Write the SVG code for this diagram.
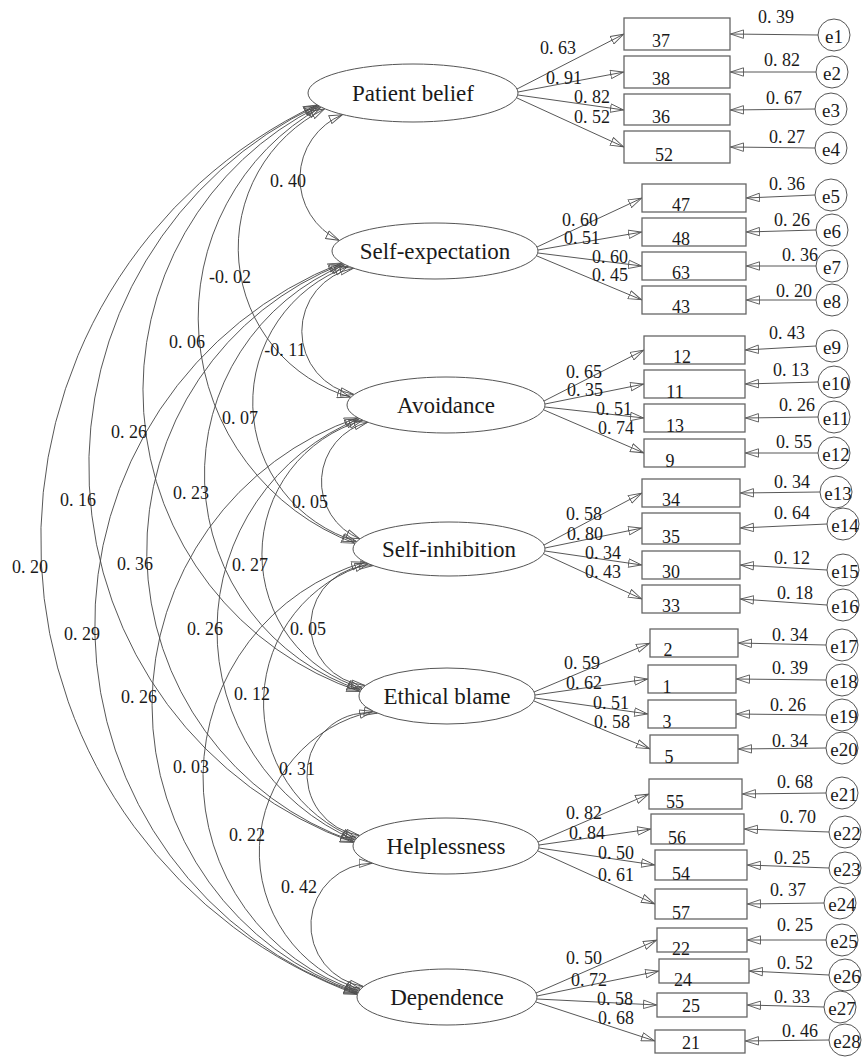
<svg xmlns="http://www.w3.org/2000/svg" width="863" height="1059" viewBox="0 0 863 1059" font-family="Liberation Serif, serif">
<defs>
<style>
.cv{fill:none;stroke:#444;stroke-width:0.9;marker-start:url(#ah);marker-end:url(#ah)}
.ar{fill:none;stroke:#444;stroke-width:0.9;marker-end:url(#ah)}
.el{fill:#fff;stroke:#555;stroke-width:1}
.bx{fill:#fff;stroke:#666;stroke-width:1.3}
.ec{fill:#fff;stroke:#555;stroke-width:1}
</style>
<marker id="ah" viewBox="0 0 14 10" refX="14" refY="5" markerWidth="14" markerHeight="10" markerUnits="userSpaceOnUse" orient="auto-start-reverse">
<path d="M0.5,0.8 L13.5,5 L0.5,9.2 Z" fill="none" stroke="#555" stroke-width="0.9"/>
</marker>
</defs>
<rect width="863" height="1059" fill="#fff"/>

<g id="connectors">
<path class="cv" d="M342.8 114.5 A68.8 68.8 0 0 0 339.5 240.5"/>
<path class="cv" d="M353.8 268.2 A64.3 64.3 0 0 0 354.2 394.5"/>
<path class="cv" d="M368 422.2 A61.5 61.5 0 0 0 360 538.9"/>
<path class="cv" d="M373.4 565.6 A60.1 60.1 0 0 0 365.4 685.5"/>
<path class="cv" d="M377.7 713.2 A61.2 61.2 0 0 0 359.8 835.5"/>
<path class="cv" d="M372.7 863.2 A62 62 0 0 0 363.6 986.5"/>
<path class="cv" d="M324.9 108.8 A155.2 155.2 0 0 0 350.9 397.3"/>
<path class="cv" d="M348.6 266.3 A144.8 144.8 0 0 0 356.7 541.5"/>
<path class="cv" d="M362.9 420.3 A139.5 139.5 0 0 0 362.4 688.3"/>
<path class="cv" d="M368.5 563.7 A144.9 144.9 0 0 0 356.6 838.3"/>
<path class="cv" d="M373.2 711.3 A143.8 143.8 0 0 0 360.5 989.3"/>
<path class="cv" d="M321.1 107.1 A241.3 241.3 0 0 0 355.1 543.4"/>
<path class="cv" d="M344.9 264.6 A227 227 0 0 0 360.9 690.2"/>
<path class="cv" d="M359.4 418.6 A228.6 228.6 0 0 0 355 840.2"/>
<path class="cv" d="M365 562.1 A224.3 224.3 0 0 0 359 991.2"/>
<path class="cv" d="M319.4 106.2 A317.3 317.3 0 0 0 360.1 691.6"/>
<path class="cv" d="M343.2 263.7 A307.8 307.8 0 0 0 354.1 841.6"/>
<path class="cv" d="M357.8 417.7 A303.6 303.6 0 0 0 358.1 992.6"/>
<path class="cv" d="M317.9 105.3 A399.4 399.4 0 0 0 353.7 842.6"/>
<path class="cv" d="M341.7 262.8 A389.5 389.5 0 0 0 357.6 993.6"/>
<path class="cv" d="M317 104.8 A482.9 482.9 0 0 0 357.4 994.6"/>
<path class="ar" d="M517 89 L624 34"/>
<path class="ar" d="M518 92 L624 72"/>
<path class="ar" d="M518 95 L624 110"/>
<path class="ar" d="M517 98 L624 147"/>
<path class="ar" d="M537 247 L642 198"/>
<path class="ar" d="M538 250 L642 232"/>
<path class="ar" d="M538 253 L642 266"/>
<path class="ar" d="M537 256 L642 300"/>
<path class="ar" d="M544 401 L644 350"/>
<path class="ar" d="M545 404 L644 384"/>
<path class="ar" d="M545 407 L644 418"/>
<path class="ar" d="M544 410 L644 453"/>
<path class="ar" d="M544 545 L642 493"/>
<path class="ar" d="M545 548 L642 528"/>
<path class="ar" d="M545 551 L642 565"/>
<path class="ar" d="M544 554 L642 599"/>
<path class="ar" d="M534 692 L650 643"/>
<path class="ar" d="M535 695 L648 679"/>
<path class="ar" d="M535 698 L648 714"/>
<path class="ar" d="M534 701 L650 749"/>
<path class="ar" d="M538 842 L649 794"/>
<path class="ar" d="M539 845 L651 829"/>
<path class="ar" d="M539 848 L655 865"/>
<path class="ar" d="M538 851 L655 904"/>
<path class="ar" d="M536 993 L657 940"/>
<path class="ar" d="M537 996 L659 971"/>
<path class="ar" d="M537 999 L657 1005"/>
<path class="ar" d="M536 1002 L655 1041"/>
<path class="ar" d="M818 35 L730 34"/>
<path class="ar" d="M816 72 L730 72"/>
<path class="ar" d="M815 109 L730 110"/>
<path class="ar" d="M815 148 L730 147"/>
<path class="ar" d="M815 195 L746 198"/>
<path class="ar" d="M816 230 L746 232"/>
<path class="ar" d="M816 266 L746 266"/>
<path class="ar" d="M816 300 L746 300"/>
<path class="ar" d="M816 346 L745 350"/>
<path class="ar" d="M818 382 L745 384"/>
<path class="ar" d="M818 417 L745 418"/>
<path class="ar" d="M818 453 L745 453"/>
<path class="ar" d="M820 492 L740 493"/>
<path class="ar" d="M827 524 L740 528"/>
<path class="ar" d="M827 570 L740 565"/>
<path class="ar" d="M827 605 L740 599"/>
<path class="ar" d="M826 645 L738 643"/>
<path class="ar" d="M826 680 L736 679"/>
<path class="ar" d="M826 715 L736 714"/>
<path class="ar" d="M826 748 L738 749"/>
<path class="ar" d="M826 793 L742 794"/>
<path class="ar" d="M829 832 L744 829"/>
<path class="ar" d="M829 868 L747 865"/>
<path class="ar" d="M824 903 L747 904"/>
<path class="ar" d="M826 940 L747 940"/>
<path class="ar" d="M829 975 L749 971"/>
<path class="ar" d="M824 1007 L747 1005"/>
<path class="ar" d="M829 1040 L745 1041"/>
</g>

<g id="connector-labels" font-family="Liberation Serif, serif" font-size="18" text-anchor="middle" fill="#1a1a1a">
<text x="288" y="187">0. 40</text>
<text x="285" y="356">-0. 11</text>
<text x="310" y="508">0. 05</text>
<text x="308" y="635">0. 05</text>
<text x="297" y="775">0. 31</text>
<text x="299" y="893">0. 42</text>
<text x="230" y="283">-0. 02</text>
<text x="240" y="424">0. 07</text>
<text x="250" y="571">0. 27</text>
<text x="252" y="700">0. 12</text>
<text x="247" y="841">0. 22</text>
<text x="187" y="348">0. 06</text>
<text x="191" y="499">0. 23</text>
<text x="205" y="635">0. 26</text>
<text x="191" y="773">0. 03</text>
<text x="129" y="438">0. 26</text>
<text x="135" y="570">0. 36</text>
<text x="139" y="703">0. 26</text>
<text x="78" y="506">0. 16</text>
<text x="82" y="640">0. 29</text>
<text x="30" y="573">0. 20</text>
<text x="558" y="54">0. 63</text>
<text x="564" y="84">0. 91</text>
<text x="592" y="103">0. 82</text>
<text x="592" y="123">0. 52</text>
<text x="580" y="226">0. 60</text>
<text x="582" y="244">0. 51</text>
<text x="610" y="263">0. 60</text>
<text x="610" y="281">0. 45</text>
<text x="584" y="378">0. 65</text>
<text x="585" y="396">0. 35</text>
<text x="614" y="415">0. 51</text>
<text x="616" y="434">0. 74</text>
<text x="584" y="520">0. 58</text>
<text x="585" y="540">0. 80</text>
<text x="603" y="559">0. 34</text>
<text x="603" y="578">0. 43</text>
<text x="582" y="669">0. 59</text>
<text x="584" y="689">0. 62</text>
<text x="611" y="709">0. 51</text>
<text x="612" y="728">0. 58</text>
<text x="584" y="819">0. 82</text>
<text x="587" y="839">0. 84</text>
<text x="616" y="859">0. 50</text>
<text x="616" y="881">0. 61</text>
<text x="584" y="964">0. 50</text>
<text x="589" y="986">0. 72</text>
<text x="615" y="1005">0. 58</text>
<text x="616" y="1024">0. 68</text>
<text x="776" y="23">0. 39</text>
<text x="782" y="66">0. 82</text>
<text x="784" y="104">0. 67</text>
<text x="787" y="143">0. 27</text>
<text x="787" y="190">0. 36</text>
<text x="792" y="226">0. 26</text>
<text x="800" y="261">0. 36</text>
<text x="794" y="297">0. 20</text>
<text x="787" y="339">0. 43</text>
<text x="791" y="376">0. 13</text>
<text x="797" y="411">0. 26</text>
<text x="794" y="448">0. 55</text>
<text x="792" y="488">0. 34</text>
<text x="792" y="519">0. 64</text>
<text x="792" y="564">0. 12</text>
<text x="795" y="599">0. 18</text>
<text x="790" y="641">0. 34</text>
<text x="790" y="674">0. 39</text>
<text x="788" y="711">0. 26</text>
<text x="790" y="747">0. 34</text>
<text x="795" y="788">0. 68</text>
<text x="798" y="823">0. 70</text>
<text x="792" y="864">0. 25</text>
<text x="788" y="896">0. 37</text>
<text x="795" y="931">0. 25</text>
<text x="795" y="969">0. 52</text>
<text x="792" y="1003">0. 33</text>
<text x="800" y="1037">0. 46</text>
</g>

<g id="factors" font-family="Liberation Serif, serif" font-size="23" text-anchor="middle" fill="#1a1a1a">
<g id="f-patient-belief"><ellipse class="el" cx="413" cy="93" rx="105" ry="29"/><text x="413" y="101">Patient belief</text></g>
<g id="f-self-expectation"><ellipse class="el" cx="435" cy="251" rx="103" ry="28"/><text x="435" y="259">Self-expectation</text></g>
<g id="f-avoidance"><ellipse class="el" cx="446" cy="405" rx="99" ry="28"/><text x="446" y="413">Avoidance</text></g>
<g id="f-self-inhibition"><ellipse class="el" cx="449" cy="549" rx="96" ry="27"/><text x="449" y="557">Self-inhibition</text></g>
<g id="f-ethical-blame"><ellipse class="el" cx="447" cy="696" rx="88" ry="28"/><text x="447" y="704">Ethical blame</text></g>
<g id="f-helplessness"><ellipse class="el" cx="446" cy="846" rx="93" ry="28"/><text x="446" y="854">Helplessness</text></g>
<g id="f-dependence"><ellipse class="el" cx="447" cy="997" rx="90" ry="28"/><text x="447" y="1005">Dependence</text></g>
</g>

<g id="indicators" font-family="Liberation Serif, serif" font-size="18" text-anchor="middle" fill="#1a1a1a">
<g id="v37"><rect class="bx" x="624" y="18" width="106" height="32"/><text x="661" y="47">37</text></g>
<g id="v38"><rect class="bx" x="624" y="56" width="106" height="32"/><text x="661" y="85">38</text></g>
<g id="v36"><rect class="bx" x="624" y="94" width="106" height="31"/><text x="661" y="123">36</text></g>
<g id="v52"><rect class="bx" x="624" y="131" width="106" height="32"/><text x="664" y="161">52</text></g>
<g id="v47"><rect class="bx" x="642" y="184" width="104" height="28"/><text x="681" y="211">47</text></g>
<g id="v48"><rect class="bx" x="642" y="218" width="104" height="28"/><text x="681" y="245">48</text></g>
<g id="v63"><rect class="bx" x="642" y="252" width="104" height="28"/><text x="681" y="279">63</text></g>
<g id="v43"><rect class="bx" x="642" y="286" width="104" height="28"/><text x="681" y="313">43</text></g>
<g id="v12"><rect class="bx" x="644" y="336" width="101" height="28"/><text x="682" y="363">12</text></g>
<g id="v11"><rect class="bx" x="644" y="370" width="101" height="28"/><text x="675" y="398">11</text></g>
<g id="v13"><rect class="bx" x="644" y="404" width="101" height="28"/><text x="675" y="432">13</text></g>
<g id="v9"><rect class="bx" x="644" y="439" width="101" height="28"/><text x="670" y="467">9</text></g>
<g id="v34"><rect class="bx" x="642" y="479" width="98" height="28"/><text x="671" y="506">34</text></g>
<g id="v35"><rect class="bx" x="642" y="513" width="98" height="31"/><text x="671" y="543">35</text></g>
<g id="v30"><rect class="bx" x="642" y="551" width="98" height="28"/><text x="671" y="578">30</text></g>
<g id="v33"><rect class="bx" x="642" y="585" width="98" height="28"/><text x="671" y="612">33</text></g>
<g id="v2"><rect class="bx" x="650" y="629" width="88" height="28"/><text x="668" y="656">2</text></g>
<g id="v1"><rect class="bx" x="648" y="665" width="88" height="28"/><text x="667" y="693">1</text></g>
<g id="v3"><rect class="bx" x="648" y="700" width="88" height="28"/><text x="667" y="728">3</text></g>
<g id="v5"><rect class="bx" x="650" y="735" width="88" height="28"/><text x="669" y="763">5</text></g>
<g id="v55"><rect class="bx" x="649" y="779" width="93" height="30"/><text x="675" y="808">55</text></g>
<g id="v56"><rect class="bx" x="651" y="814" width="93" height="30"/><text x="677" y="844">56</text></g>
<g id="v54"><rect class="bx" x="655" y="850" width="92" height="30"/><text x="681" y="880">54</text></g>
<g id="v57"><rect class="bx" x="655" y="889" width="92" height="30"/><text x="681" y="919">57</text></g>
<g id="v22"><rect class="bx" x="657" y="928" width="90" height="24"/><text x="681" y="955">22</text></g>
<g id="v24"><rect class="bx" x="659" y="959" width="90" height="24"/><text x="683" y="986">24</text></g>
<g id="v25"><rect class="bx" x="657" y="993" width="90" height="24"/><text x="691" y="1012">25</text></g>
<g id="v21"><rect class="bx" x="655" y="1030" width="90" height="23"/><text x="691" y="1049">21</text></g>
</g>

<g id="errors" font-family="Liberation Serif, serif" font-size="19" text-anchor="middle" fill="#1a1a1a">
<g id="e1"><circle class="ec" cx="834" cy="35" r="16"/><text x="834" y="43">e1</text></g>
<g id="e2"><circle class="ec" cx="832" cy="72" r="16"/><text x="832" y="80">e2</text></g>
<g id="e3"><circle class="ec" cx="831" cy="109" r="16"/><text x="831" y="117">e3</text></g>
<g id="e4"><circle class="ec" cx="831" cy="148" r="16"/><text x="831" y="156">e4</text></g>
<g id="e5"><circle class="ec" cx="831" cy="195" r="16"/><text x="831" y="203">e5</text></g>
<g id="e6"><circle class="ec" cx="832" cy="230" r="16"/><text x="832" y="238">e6</text></g>
<g id="e7"><circle class="ec" cx="832" cy="266" r="16"/><text x="832" y="274">e7</text></g>
<g id="e8"><circle class="ec" cx="832" cy="300" r="16"/><text x="832" y="308">e8</text></g>
<g id="e9"><circle class="ec" cx="832" cy="346" r="16"/><text x="832" y="354">e9</text></g>
<g id="e10"><circle class="ec" cx="834" cy="382" r="16"/><text x="836" y="390">e10</text></g>
<g id="e11"><circle class="ec" cx="834" cy="417" r="16"/><text x="836" y="425">e11</text></g>
<g id="e12"><circle class="ec" cx="834" cy="453" r="16"/><text x="836" y="461">e12</text></g>
<g id="e13"><circle class="ec" cx="836" cy="492" r="16"/><text x="838" y="500">e13</text></g>
<g id="e14"><circle class="ec" cx="843" cy="524" r="16"/><text x="845" y="532">e14</text></g>
<g id="e15"><circle class="ec" cx="843" cy="570" r="16"/><text x="845" y="578">e15</text></g>
<g id="e16"><circle class="ec" cx="843" cy="605" r="16"/><text x="845" y="613">e16</text></g>
<g id="e17"><circle class="ec" cx="842" cy="645" r="16"/><text x="844" y="653">e17</text></g>
<g id="e18"><circle class="ec" cx="842" cy="680" r="16"/><text x="844" y="688">e18</text></g>
<g id="e19"><circle class="ec" cx="842" cy="715" r="16"/><text x="844" y="723">e19</text></g>
<g id="e20"><circle class="ec" cx="842" cy="748" r="16"/><text x="844" y="756">e20</text></g>
<g id="e21"><circle class="ec" cx="842" cy="793" r="16"/><text x="844" y="801">e21</text></g>
<g id="e22"><circle class="ec" cx="845" cy="832" r="16"/><text x="847" y="840">e22</text></g>
<g id="e23"><circle class="ec" cx="845" cy="868" r="16"/><text x="847" y="876">e23</text></g>
<g id="e24"><circle class="ec" cx="840" cy="903" r="16"/><text x="842" y="911">e24</text></g>
<g id="e25"><circle class="ec" cx="842" cy="940" r="16"/><text x="844" y="948">e25</text></g>
<g id="e26"><circle class="ec" cx="845" cy="975" r="16"/><text x="847" y="983">e26</text></g>
<g id="e27"><circle class="ec" cx="840" cy="1007" r="16"/><text x="842" y="1015">e27</text></g>
<g id="e28"><circle class="ec" cx="845" cy="1040" r="16"/><text x="847" y="1048">e28</text></g>
</g>
</svg>
